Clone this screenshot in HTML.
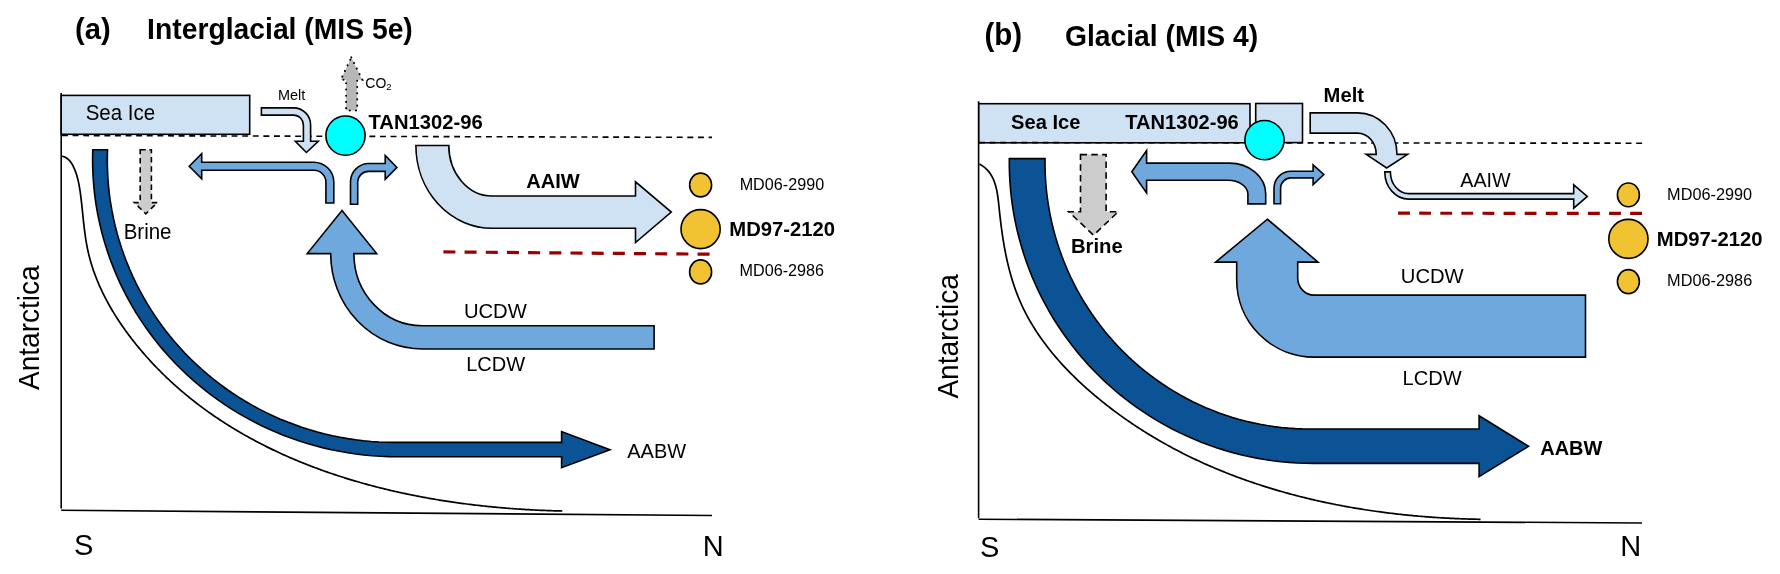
<!DOCTYPE html>
<html><head><meta charset="utf-8"><style>
html,body{margin:0;padding:0;background:#fff;}
body{width:1780px;height:574px;overflow:hidden;}
svg{display:block;will-change:transform;}
text{font-family:"Liberation Sans",sans-serif;fill:#000;}
</style></head><body>
<svg width="1780" height="574" viewBox="0 0 1780 574">
<rect width="1780" height="574" fill="#fff"/>
<path d="M61.2,93 L61.2,508.5" stroke="#000" stroke-width="1.6" fill="none"/>
<path d="M61.2,510.3 L712,515.5" stroke="#000" stroke-width="1.6" fill="none"/>
<path d="M61.29,156.01 L63.07,156.44 L64.70,157.05 L66.17,157.81 L67.50,158.71 L68.71,159.75 L69.80,160.89 L70.78,162.13 L71.68,163.46 L72.50,164.85 L73.25,166.30 L73.95,167.78 L74.61,169.29 L75.22,170.83 L75.79,172.39 L76.33,173.97 L76.83,175.58 L77.29,177.20 L77.72,178.85 L78.12,180.51 L78.49,182.18 L78.84,183.87 L79.16,185.57 L79.47,187.28 L79.75,188.99 L80.01,190.72 L80.26,192.44 L80.50,194.18 L80.72,195.91 L80.94,197.64 L81.15,199.38 L81.35,201.11 L81.55,202.84 L81.74,204.57 L81.93,206.30 L82.11,208.03 L82.29,209.75 L82.47,211.48 L82.65,213.20 L82.82,214.92 L83.00,216.64 L83.18,218.36 L83.36,220.08 L83.54,221.79 L83.73,223.50 L83.92,225.21 L84.12,226.92 L84.32,228.63 L84.53,230.33 L84.75,232.03 L84.98,233.72 L85.21,235.42 L85.46,237.11 L85.71,238.80 L85.98,240.48 L86.26,242.16 L86.55,243.84 L86.86,245.52 L87.18,247.19 L87.51,248.85 L87.87,250.52 L88.24,252.18 L88.62,253.83 L89.02,255.48 L89.44,257.13 L89.88,258.77 L90.33,260.41 L90.80,262.05 L91.28,263.68 L91.78,265.30 L92.30,266.93 L92.83,268.55 L93.37,270.16 L93.93,271.77 L94.51,273.37 L95.10,274.97 L95.70,276.57 L96.32,278.16 L96.95,279.75 L97.60,281.33 L98.26,282.91 L98.93,284.48 L99.62,286.05 L100.32,287.61 L101.03,289.17 L101.76,290.72 L102.49,292.27 L103.25,293.82 L104.01,295.36 L104.78,296.89 L105.57,298.42 L106.37,299.94 L107.18,301.46 L108.01,302.97 L108.84,304.48 L109.68,305.98 L110.54,307.48 L111.41,308.97 L112.29,310.46 L113.17,311.94 L114.07,313.42 L114.98,314.89 L115.90,316.35 L116.83,317.81 L117.76,319.26 L118.71,320.71 L119.67,322.15 L120.63,323.59 L121.61,325.02 L122.59,326.45 L123.58,327.86 L124.58,329.28 L125.59,330.68 L126.61,332.08 L127.63,333.48 L128.66,334.87 L129.70,336.25 L130.75,337.63 L131.80,339.00 L132.86,340.36 L133.93,341.72 L135.01,343.07 L136.09,344.42 L137.18,345.75 L138.27,347.09 L139.37,348.41 L140.47,349.73 L141.59,351.04 L142.70,352.35 L143.83,353.65 L144.95,354.94 L146.09,356.23 L147.23,357.51 L148.37,358.78 L149.52,360.05 L150.68,361.31 L151.84,362.57 L153.00,363.81 L154.18,365.06 L155.35,366.29 L156.54,367.52 L157.72,368.74 L158.92,369.96 L160.11,371.17 L161.32,372.37 L162.53,373.57 L163.74,374.76 L164.96,375.94 L166.18,377.12 L167.41,378.29 L168.65,379.46 L169.89,380.62 L171.13,381.77 L172.38,382.92 L173.63,384.06 L174.89,385.19 L176.16,386.32 L177.43,387.45 L178.70,388.56 L179.98,389.67 L181.26,390.78 L182.55,391.87 L183.84,392.97 L185.14,394.05 L186.44,395.13 L187.75,396.21 L189.06,397.27 L190.38,398.34 L191.70,399.39 L193.02,400.44 L194.35,401.49 L195.69,402.52 L197.02,403.55 L198.37,404.58 L199.71,405.60 L201.07,406.62 L202.42,407.62 L203.78,408.63 L205.15,409.62 L206.52,410.61 L207.89,411.60 L209.27,412.58 L210.65,413.55 L212.03,414.52 L213.42,415.48 L214.82,416.44 L216.22,417.39 L217.62,418.33 L219.02,419.27 L220.43,420.20 L221.85,421.13 L223.27,422.05 L224.69,422.97 L226.11,423.88 L227.54,424.78 L228.98,425.68 L230.41,426.57 L231.86,427.46 L233.30,428.35 L234.75,429.22 L236.20,430.09 L237.66,430.96 L239.12,431.82 L240.58,432.67 L242.05,433.52 L243.52,434.37 L244.99,435.20 L246.47,436.04 L247.95,436.86 L249.43,437.69 L250.92,438.50 L252.41,439.31 L253.91,440.12 L255.40,440.92 L256.90,441.71 L258.41,442.50 L259.92,443.29 L261.43,444.07 L262.94,444.84 L264.46,445.61 L265.98,446.37 L267.50,447.13 L269.03,447.88 L270.56,448.63 L272.09,449.37 L273.63,450.11 L275.16,450.84 L276.71,451.56 L278.25,452.28 L279.80,453.00 L281.35,453.71 L282.90,454.42 L284.46,455.12 L286.02,455.81 L287.58,456.50 L289.14,457.19 L290.71,457.87 L292.28,458.54 L293.85,459.21 L295.42,459.88 L297.00,460.54 L298.58,461.19 L300.17,461.84 L301.75,462.49 L303.34,463.13 L304.93,463.76 L306.52,464.39 L308.12,465.02 L309.71,465.64 L311.31,466.25 L312.91,466.87 L314.52,467.47 L316.13,468.07 L317.73,468.67 L319.35,469.26 L320.96,469.85 L322.57,470.43 L324.19,471.00 L325.81,471.58 L327.43,472.14 L329.06,472.71 L330.68,473.26 L332.31,473.82 L333.94,474.37 L335.57,474.91 L337.21,475.45 L338.84,475.98 L340.48,476.51 L342.12,477.04 L343.76,477.56 L345.40,478.07 L347.05,478.59 L348.69,479.09 L350.34,479.59 L351.99,480.09 L353.64,480.59 L355.30,481.07 L356.95,481.56 L358.61,482.04 L360.26,482.51 L361.92,482.98 L363.58,483.45 L365.25,483.91 L366.91,484.37 L368.58,484.82 L370.24,485.27 L371.91,485.71 L373.58,486.15 L375.25,486.59 L376.92,487.02 L378.59,487.45 L380.27,487.87 L381.94,488.29 L383.62,488.70 L385.30,489.11 L386.98,489.52 L388.66,489.92 L390.34,490.31 L392.02,490.71 L393.70,491.09 L395.38,491.48 L397.07,491.86 L398.75,492.23 L400.44,492.61 L402.13,492.97 L403.82,493.34 L405.51,493.70 L407.20,494.05 L408.89,494.40 L410.58,494.75 L412.27,495.09 L413.96,495.43 L415.66,495.77 L417.35,496.10 L419.04,496.42 L420.74,496.75 L422.43,497.06 L424.13,497.38 L425.83,497.69 L427.52,498.00 L429.22,498.30 L430.92,498.60 L432.62,498.89 L434.32,499.19 L436.02,499.47 L437.71,499.76 L439.41,500.04 L441.11,500.31 L442.81,500.59 L444.51,500.85 L446.21,501.12 L447.91,501.38 L449.61,501.64 L451.31,501.89 L453.02,502.14 L454.72,502.38 L456.42,502.63 L458.12,502.86 L459.82,503.10 L461.52,503.33 L463.22,503.56 L464.92,503.78 L466.62,504.00 L468.32,504.22 L470.02,504.43 L471.72,504.64 L473.41,504.85 L475.11,505.05 L476.81,505.25 L478.51,505.44 L480.21,505.63 L481.90,505.82 L483.60,506.01 L485.30,506.19 L486.99,506.37 L488.69,506.54 L490.38,506.71 L492.08,506.88 L493.77,507.04 L495.46,507.20 L497.15,507.36 L498.85,507.51 L500.54,507.67 L502.23,507.81 L503.92,507.96 L505.60,508.10 L507.29,508.23 L508.98,508.37 L510.66,508.50 L512.35,508.63 L514.03,508.75 L515.72,508.87 L517.40,508.99 L519.08,509.10 L520.76,509.21 L522.44,509.32 L524.11,509.43 L525.79,509.53 L527.47,509.63 L529.14,509.72 L530.81,509.82 L532.49,509.91 L534.16,509.99 L535.83,510.08 L537.49,510.16 L539.16,510.23 L540.83,510.31 L542.49,510.38 L544.15,510.45 L545.81,510.51 L547.47,510.57 L549.13,510.63 L550.79,510.69 L552.44,510.74 L554.09,510.79 L555.75,510.84 L557.40,510.89 L559.04,510.93 L560.69,510.97 L562.34,511.00" stroke="#000" stroke-width="1.7" fill="none"/>
<rect x="61.2" y="95.4" width="188.5" height="38.9" fill="#cfe2f3" stroke="#000" stroke-width="1.6"/>
<path d="M62,135.5 L712,137.4" stroke="#000" stroke-width="1.6" stroke-dasharray="5.9 4.7" fill="none"/>
<path d="M92.78,149.70 L92.61,157.77 L92.66,165.85 L92.94,173.91 L93.44,181.97 L94.16,190.02 L95.11,198.04 L96.29,206.03 L97.68,213.99 L99.30,221.90 L101.14,229.78 L103.20,237.60 L105.47,245.36 L107.97,253.06 L110.67,260.69 L113.59,268.25 L116.72,275.72 L120.05,283.11 L123.59,290.41 L127.34,297.62 L131.28,304.72 L135.42,311.71 L139.75,318.59 L144.27,325.36 L148.99,332.00 L153.88,338.51 L158.96,344.90 L164.21,351.14 L169.63,357.24 L175.22,363.20 L180.98,369.01 L186.90,374.66 L192.97,380.16 L199.19,385.49 L205.56,390.65 L212.07,395.64 L218.72,400.46 L225.50,405.10 L232.41,409.56 L239.44,413.83 L246.59,417.92 L253.84,421.81 L261.21,425.51 L268.67,429.02 L276.23,432.32 L283.88,435.43 L291.61,438.33 L299.42,441.02 L307.31,443.51 L315.26,445.78 L323.27,447.85 L331.33,449.70 L339.45,451.33 L347.60,452.75 L355.80,453.96 L364.02,454.94 L372.27,455.71 L380.54,456.26 L388.81,456.59 L397.10,456.70 L561.60,456.70 L561.60,467.70 L610.00,449.70 L561.60,431.60 L561.60,442.40 L394.70,442.40 L386.87,442.30 L379.04,441.98 L371.23,441.46 L363.43,440.72 L355.66,439.78 L347.91,438.64 L340.20,437.28 L332.53,435.72 L324.91,433.95 L317.34,431.98 L309.82,429.81 L302.37,427.44 L294.99,424.87 L287.68,422.11 L280.45,419.14 L273.31,415.99 L266.25,412.65 L259.30,409.12 L252.44,405.40 L245.68,401.50 L239.04,397.43 L232.52,393.17 L226.11,388.75 L219.83,384.15 L213.68,379.39 L207.66,374.46 L201.79,369.38 L196.05,364.14 L190.47,358.75 L185.03,353.21 L179.75,347.53 L174.64,341.71 L169.68,335.75 L164.89,329.67 L160.27,323.45 L155.83,317.12 L151.56,310.67 L147.48,304.11 L143.58,297.44 L139.86,290.67 L136.33,283.80 L133.00,276.84 L129.86,269.80 L126.92,262.67 L124.17,255.47 L121.63,248.19 L119.29,240.85 L117.15,233.45 L115.22,226.00 L113.50,218.50 L111.99,210.95 L110.68,203.37 L109.59,195.75 L108.71,188.11 L108.04,180.44 L107.59,172.77 L107.34,165.08 L107.31,157.39 L107.50,149.70 Z" fill="#0b5394" stroke="#000" stroke-width="1.6" stroke-linejoin="miter"/>
<polygon points="140.20,149.80 151.40,149.80 151.40,202.60 157.40,202.60 145.80,213.80 134.30,202.60 140.20,202.60" fill="#cccccc" stroke="#000" stroke-width="1.6" stroke-dasharray="5.5 3.7"/>
<path d="M261.4,107.9 L293.60,107.9 A17,17 0 0 1 310.6,124.90 L310.6,141.3 L318.3,141.3 L306.4,152.5 L295.3,141.3 L303.4,141.3 L303.4,124.90 A9.8,9.8 0 0 0 293.60,115.1 L261.4,115.1 Z" fill="#cfe2f3" stroke="#000" stroke-width="1.6"/>
<polygon points="351.30,57.40 362.30,79.70 357.20,79.70 357.20,110.60 346.10,110.60 346.10,79.70 340.80,79.70" fill="#b7b7b7" stroke="#000" stroke-width="2" stroke-dasharray="0.1 6.1" stroke-linecap="round"/>
<path d="M189.2,166.3 L201.7,153.7 L201.7,162.2 L313.80,162.2 A20,20 0 0 1 333.8,182.20 L333.8,203 L325.9,203 L325.9,182.20 A11.9,11.9 0 0 0 313.80,170.3 L201.7,170.3 L201.7,178.9 Z" fill="#6fa8dc" stroke="#000" stroke-width="1.6"/>
<path d="M350.5,204.3 L350.5,181.80 A18.3,18.3 0 0 1 368.80,163.5 L385.2,163.5 L385.2,155.4 L396.9,167.4 L385.2,179.3 L385.2,171.4 L368.80,171.4 A10.9,10.9 0 0 0 357.7,181.80 L357.7,204.3 Z" fill="#6fa8dc" stroke="#000" stroke-width="1.6"/>
<circle cx="345.5" cy="135.6" r="19.6" fill="#00ffff" stroke="#000" stroke-width="1.6"/>
<path d="M415.9,145.5 L448.8,145.5 A43.2,50.5 0 0 0 492,196 L635.5,196 L635.5,181.8 L671.3,212.1 L635.5,242.5 L635.5,228.2 L492,228.2 A76.1,82.7 0 0 1 415.9,145.5 Z" fill="#cfe2f3" stroke="#000" stroke-width="1.6"/>
<path d="M342,210.6 L376.7,253.6 L353.9,253.6 A68.5,72.2 0 0 0 422.4,325.8 L654.1,325.8 L654.1,349 L422.4,349 A91.7,95.4 0 0 1 330.7,253.6 L307.2,253.6 Z" fill="#6fa8dc" stroke="#000" stroke-width="1.6"/>
<path d="M443.4,251.9 L709.6,254.2" stroke="#990000" stroke-width="3.2" stroke-dasharray="12 9.18" fill="none"/>
<ellipse cx="700.6" cy="185" rx="11.0" ry="11.9" fill="#f1c232" stroke="#000" stroke-width="1.6"/>
<ellipse cx="700.6" cy="229.1" rx="19.6" ry="19.5" fill="#f1c232" stroke="#000" stroke-width="1.6"/>
<ellipse cx="700.6" cy="271.9" rx="11.0" ry="12.0" fill="#f1c232" stroke="#000" stroke-width="1.6"/>
<path d="M978.6,101.3 L978.6,518.3" stroke="#000" stroke-width="1.6" fill="none"/>
<path d="M978.6,519.2 L1642,523" stroke="#000" stroke-width="1.6" fill="none"/>
<path d="M979.43,164.02 L981.00,164.91 L982.47,165.85 L983.86,166.85 L985.15,167.90 L986.36,169.01 L987.49,170.16 L988.54,171.37 L989.52,172.61 L990.43,173.90 L991.27,175.24 L992.04,176.60 L992.76,178.01 L993.42,179.45 L994.02,180.92 L994.58,182.42 L995.08,183.94 L995.55,185.50 L995.98,187.07 L996.36,188.67 L996.72,190.28 L997.04,191.92 L997.34,193.57 L997.61,195.24 L997.86,196.92 L998.09,198.62 L998.30,200.32 L998.50,202.04 L998.69,203.76 L998.87,205.49 L999.05,207.22 L999.22,208.95 L999.40,210.69 L999.58,212.42 L999.77,214.16 L999.96,215.89 L1000.16,217.62 L1000.36,219.35 L1000.56,221.09 L1000.77,222.82 L1000.99,224.55 L1001.21,226.27 L1001.43,228.00 L1001.67,229.73 L1001.90,231.45 L1002.15,233.17 L1002.40,234.89 L1002.66,236.61 L1002.92,238.33 L1003.19,240.04 L1003.47,241.75 L1003.76,243.46 L1004.05,245.17 L1004.35,246.87 L1004.66,248.58 L1004.98,250.27 L1005.31,251.97 L1005.64,253.66 L1005.98,255.35 L1006.34,257.04 L1006.70,258.72 L1007.07,260.40 L1007.45,262.08 L1007.84,263.75 L1008.23,265.42 L1008.64,267.08 L1009.06,268.74 L1009.49,270.40 L1009.93,272.05 L1010.38,273.70 L1010.85,275.34 L1011.32,276.98 L1011.80,278.61 L1012.30,280.24 L1012.81,281.87 L1013.33,283.49 L1013.86,285.10 L1014.40,286.71 L1014.96,288.31 L1015.53,289.91 L1016.11,291.50 L1016.70,293.08 L1017.31,294.66 L1017.93,296.24 L1018.57,297.80 L1019.22,299.36 L1019.88,300.92 L1020.56,302.47 L1021.25,304.01 L1021.95,305.55 L1022.67,307.08 L1023.40,308.60 L1024.14,310.11 L1024.90,311.62 L1025.67,313.13 L1026.46,314.62 L1027.25,316.12 L1028.06,317.60 L1028.88,319.08 L1029.72,320.55 L1030.57,322.02 L1031.42,323.47 L1032.29,324.93 L1033.18,326.37 L1034.07,327.81 L1034.98,329.25 L1035.89,330.68 L1036.82,332.10 L1037.76,333.51 L1038.71,334.92 L1039.67,336.32 L1040.65,337.72 L1041.63,339.11 L1042.62,340.49 L1043.63,341.87 L1044.64,343.24 L1045.66,344.61 L1046.70,345.97 L1047.74,347.32 L1048.79,348.66 L1049.86,350.00 L1050.93,351.34 L1052.01,352.67 L1053.10,353.99 L1054.20,355.30 L1055.31,356.61 L1056.42,357.92 L1057.55,359.21 L1058.68,360.50 L1059.83,361.79 L1060.98,363.07 L1062.13,364.34 L1063.30,365.61 L1064.47,366.87 L1065.65,368.12 L1066.84,369.37 L1068.04,370.61 L1069.24,371.85 L1070.45,373.08 L1071.67,374.30 L1072.89,375.52 L1074.12,376.73 L1075.36,377.94 L1076.60,379.14 L1077.85,380.33 L1079.11,381.52 L1080.37,382.70 L1081.64,383.87 L1082.91,385.04 L1084.19,386.21 L1085.47,387.37 L1086.76,388.52 L1088.05,389.66 L1089.35,390.80 L1090.66,391.94 L1091.96,393.06 L1093.28,394.19 L1094.59,395.30 L1095.92,396.41 L1097.24,397.52 L1098.57,398.62 L1099.91,399.71 L1101.24,400.80 L1102.58,401.88 L1103.93,402.95 L1105.28,404.02 L1106.63,405.08 L1107.98,406.14 L1109.34,407.19 L1110.71,408.24 L1112.07,409.28 L1113.44,410.31 L1114.82,411.34 L1116.19,412.36 L1117.57,413.38 L1118.96,414.39 L1120.35,415.40 L1121.74,416.40 L1123.13,417.39 L1124.53,418.38 L1125.93,419.36 L1127.34,420.34 L1128.74,421.31 L1130.15,422.28 L1131.57,423.24 L1132.99,424.19 L1134.41,425.14 L1135.83,426.09 L1137.26,427.02 L1138.69,427.96 L1140.13,428.88 L1141.56,429.80 L1143.00,430.72 L1144.45,431.63 L1145.89,432.53 L1147.34,433.43 L1148.80,434.33 L1150.25,435.22 L1151.71,436.10 L1153.17,436.98 L1154.64,437.85 L1156.11,438.71 L1157.58,439.58 L1159.05,440.43 L1160.53,441.28 L1162.01,442.13 L1163.49,442.97 L1164.97,443.80 L1166.46,444.63 L1167.95,445.45 L1169.45,446.27 L1170.95,447.08 L1172.44,447.89 L1173.95,448.70 L1175.45,449.49 L1176.96,450.28 L1178.47,451.07 L1179.98,451.85 L1181.50,452.63 L1183.02,453.40 L1184.54,454.17 L1186.06,454.93 L1187.59,455.68 L1189.12,456.43 L1190.65,457.18 L1192.18,457.92 L1193.72,458.65 L1195.26,459.38 L1196.80,460.11 L1198.34,460.83 L1199.89,461.54 L1201.44,462.25 L1202.99,462.96 L1204.54,463.66 L1206.10,464.35 L1207.66,465.04 L1209.22,465.73 L1210.78,466.40 L1212.35,467.08 L1213.91,467.75 L1215.48,468.41 L1217.05,469.07 L1218.63,469.73 L1220.20,470.38 L1221.78,471.02 L1223.36,471.66 L1224.95,472.30 L1226.53,472.93 L1228.12,473.55 L1229.71,474.17 L1231.30,474.79 L1232.89,475.40 L1234.48,476.01 L1236.08,476.61 L1237.68,477.21 L1239.28,477.80 L1240.88,478.39 L1242.49,478.97 L1244.10,479.55 L1245.70,480.12 L1247.31,480.69 L1248.93,481.25 L1250.54,481.81 L1252.16,482.36 L1253.77,482.91 L1255.39,483.46 L1257.02,484.00 L1258.64,484.53 L1260.26,485.06 L1261.89,485.59 L1263.52,486.11 L1265.15,486.63 L1266.78,487.14 L1268.41,487.65 L1270.05,488.15 L1271.68,488.65 L1273.32,489.15 L1274.96,489.64 L1276.60,490.12 L1278.24,490.60 L1279.88,491.08 L1281.53,491.55 L1283.18,492.02 L1284.82,492.48 L1286.47,492.94 L1288.12,493.40 L1289.78,493.85 L1291.43,494.29 L1293.08,494.73 L1294.74,495.17 L1296.40,495.60 L1298.06,496.03 L1299.72,496.45 L1301.38,496.87 L1303.04,497.29 L1304.70,497.70 L1306.37,498.11 L1308.03,498.51 L1309.70,498.91 L1311.37,499.30 L1313.04,499.69 L1314.71,500.08 L1316.38,500.46 L1318.05,500.83 L1319.73,501.21 L1321.40,501.57 L1323.07,501.94 L1324.75,502.30 L1326.43,502.66 L1328.11,503.01 L1329.79,503.36 L1331.47,503.70 L1333.15,504.04 L1334.83,504.38 L1336.51,504.71 L1338.19,505.03 L1339.88,505.36 L1341.56,505.68 L1343.25,505.99 L1344.94,506.30 L1346.62,506.61 L1348.31,506.92 L1350.00,507.22 L1351.69,507.51 L1353.38,507.80 L1355.07,508.09 L1356.76,508.37 L1358.45,508.65 L1360.14,508.93 L1361.84,509.20 L1363.53,509.47 L1365.22,509.73 L1366.92,510.00 L1368.61,510.25 L1370.31,510.51 L1372.00,510.75 L1373.70,511.00 L1375.40,511.24 L1377.09,511.48 L1378.79,511.71 L1380.49,511.94 L1382.18,512.17 L1383.88,512.39 L1385.58,512.61 L1387.28,512.83 L1388.98,513.04 L1390.68,513.25 L1392.38,513.45 L1394.08,513.65 L1395.78,513.85 L1397.48,514.04 L1399.18,514.23 L1400.88,514.42 L1402.58,514.60 L1404.28,514.78 L1405.98,514.95 L1407.68,515.13 L1409.38,515.29 L1411.08,515.46 L1412.78,515.62 L1414.48,515.78 L1416.18,515.93 L1417.88,516.08 L1419.58,516.23 L1421.28,516.37 L1422.98,516.51 L1424.68,516.65 L1426.37,516.78 L1428.07,516.91 L1429.77,517.04 L1431.47,517.16 L1433.17,517.28 L1434.87,517.40 L1436.57,517.51 L1438.26,517.62 L1439.96,517.73 L1441.66,517.83 L1443.35,517.93 L1445.05,518.03 L1446.74,518.12 L1448.44,518.21 L1450.13,518.30 L1451.83,518.38 L1453.52,518.46 L1455.22,518.54 L1456.91,518.61 L1458.60,518.68 L1460.29,518.75 L1461.98,518.82 L1463.67,518.88 L1465.36,518.93 L1467.05,518.99 L1468.74,519.04 L1470.43,519.09 L1472.12,519.13 L1473.80,519.18 L1475.49,519.22 L1477.17,519.25 L1478.86,519.29 L1480.54,519.32" stroke="#000" stroke-width="1.7" fill="none"/>
<rect x="978.8" y="103.7" width="271.2" height="39.1" fill="#cfe2f3" stroke="#000" stroke-width="1.6"/>
<rect x="1255.7" y="103.5" width="46.8" height="39.1" fill="#cfe2f3" stroke="#000" stroke-width="1.6"/>
<path d="M979,142.6 L1643,143.2" stroke="#000" stroke-width="1.6" stroke-dasharray="5.9 4.7" fill="none"/>
<path d="M1009.32,158.60 L1009.33,166.68 L1009.56,174.75 L1010.00,182.82 L1010.66,190.87 L1011.54,198.90 L1012.64,206.90 L1013.96,214.88 L1015.49,222.81 L1017.24,230.70 L1019.19,238.54 L1021.37,246.33 L1023.75,254.06 L1026.34,261.72 L1029.13,269.31 L1032.14,276.82 L1035.34,284.25 L1038.74,291.59 L1042.35,298.84 L1046.15,305.99 L1050.14,313.04 L1054.32,319.98 L1058.68,326.80 L1063.23,333.51 L1067.96,340.09 L1072.87,346.55 L1077.95,352.87 L1083.20,359.06 L1088.62,365.10 L1094.20,371.00 L1099.93,376.75 L1105.82,382.34 L1111.86,387.77 L1118.05,393.05 L1124.37,398.15 L1130.83,403.09 L1137.43,407.85 L1144.15,412.44 L1150.99,416.85 L1157.95,421.07 L1165.02,425.11 L1172.20,428.96 L1179.48,432.61 L1186.85,436.07 L1194.32,439.34 L1201.87,442.40 L1209.51,445.27 L1217.22,447.92 L1224.99,450.38 L1232.84,452.63 L1240.74,454.66 L1248.69,456.49 L1256.69,458.10 L1264.73,459.51 L1272.80,460.69 L1280.91,461.67 L1289.03,462.42 L1297.18,462.97 L1305.34,463.29 L1313.50,463.40 L1479.10,463.40 L1479.10,476.60 L1528.60,446.30 L1479.10,415.70 L1479.10,429.00 L1309.60,429.00 L1302.49,428.90 L1295.38,428.62 L1288.29,428.13 L1281.21,427.46 L1274.15,426.60 L1267.11,425.54 L1260.11,424.30 L1253.14,422.87 L1246.21,421.24 L1239.33,419.43 L1232.50,417.44 L1225.73,415.26 L1219.01,412.90 L1212.37,410.36 L1205.79,407.64 L1199.28,404.74 L1192.86,401.67 L1186.52,398.43 L1180.27,395.01 L1174.11,391.43 L1168.05,387.68 L1162.10,383.77 L1156.25,379.70 L1150.51,375.47 L1144.88,371.09 L1139.38,366.55 L1133.99,361.87 L1128.74,357.05 L1123.61,352.09 L1118.62,346.99 L1113.77,341.75 L1109.06,336.39 L1104.49,330.90 L1100.07,325.29 L1095.81,319.56 L1091.69,313.72 L1087.74,307.77 L1083.94,301.71 L1080.31,295.56 L1076.84,289.31 L1073.55,282.96 L1070.42,276.53 L1067.46,270.02 L1064.68,263.43 L1062.08,256.76 L1059.66,250.03 L1057.41,243.24 L1055.35,236.39 L1053.47,229.48 L1051.78,222.53 L1050.27,215.53 L1048.96,208.49 L1047.82,201.42 L1046.88,194.33 L1046.13,187.21 L1045.57,180.07 L1045.20,172.92 L1045.02,165.76 L1045.03,158.60 Z" fill="#0b5394" stroke="#000" stroke-width="1.6"/>
<polygon points="1080.50,154.60 1106.10,154.60 1106.10,211.70 1118.30,211.70 1093.50,235.20 1068.70,211.70 1080.50,211.70" fill="#cccccc" stroke="#000" stroke-width="1.6" stroke-dasharray="6.5 4.3"/>
<path d="M1310.2,112.9 L1357.4,112.9 A39.6,41.5 0 0 1 1397,154.4 L1407.6,154.4 L1386.7,168.0 L1366.2,154.4 L1376.2,154.4 A18.8,21.3 0 0 0 1357.4,133.1 L1310.2,133.1 Z" fill="#cfe2f3" stroke="#000" stroke-width="1.6"/>
<path d="M1131.8,171.7 L1146.6,150.6 L1146.6,163.1 L1229.3,163.1 A36.4,30.6 0 0 1 1265.7,193.7 L1265.7,203.9 L1247.9,203.9 L1247.9,194 A19.9,13.7 0 0 0 1228,180.3 L1146.6,180.3 L1146.6,192.9 Z" fill="#6fa8dc" stroke="#000" stroke-width="1.6"/>
<path d="M1274,203.8 L1274,188.00 A17,17 0 0 1 1291.00,171.3 L1313.1,171.3 L1313.1,164.8 L1323.8,174.5 L1313.1,184.6 L1313.1,177.9 L1291.00,177.9 A10.4,10.4 0 0 0 1280.6,188.00 L1280.6,203.8 Z" fill="#6fa8dc" stroke="#000" stroke-width="1.6"/>
<circle cx="1264.5" cy="140.1" r="19.6" fill="#00ffff" stroke="#000" stroke-width="1.6"/>
<path d="M1384.8,171.9 L1390.4,171.9 A18.3,21.7 0 0 0 1408.7,193.6 L1573.7,193.6 L1573.7,184.8 L1587.3,196.4 L1573.7,208.2 L1573.7,199.1 L1408.7,199.1 A23.9,27.2 0 0 1 1384.8,171.9 Z" fill="#cfe2f3" stroke="#000" stroke-width="1.6"/>
<path d="M1267.4,219.2 L1318,262.1 L1297.7,262.1 L1297.7,278 A16.4,17.1 0 0 0 1314.1,295.1 L1585.5,295.1 L1585.5,357.1 L1314.1,357.1 A77.4,77.1 0 0 1 1236.7,280 L1236.7,262.1 L1215.6,262.1 Z" fill="#6fa8dc" stroke="#000" stroke-width="1.6"/>
<path d="M1398.1,213.2 L1643.4,213.4" stroke="#990000" stroke-width="3.2" stroke-dasharray="11.8 9.3" fill="none"/>
<ellipse cx="1628.4" cy="194.9" rx="11.0" ry="11.9" fill="#f1c232" stroke="#000" stroke-width="1.6"/>
<ellipse cx="1628.4" cy="238.9" rx="19.6" ry="19.5" fill="#f1c232" stroke="#000" stroke-width="1.6"/>
<ellipse cx="1628.4" cy="281.6" rx="11.0" ry="12.0" fill="#f1c232" stroke="#000" stroke-width="1.6"/>
<text transform="translate(75.10,39.00) scale(1,1.040)" font-size="29.20" font-weight="bold">(a)</text>
<text transform="translate(147.12,38.50) scale(1,1.040)" font-size="28.29" font-weight="bold">Interglacial (MIS 5e)</text>
<text transform="translate(85.70,120.40) scale(1,1.040)" font-size="20.48">Sea Ice</text>
<text transform="translate(277.88,99.80) scale(1,1.040)" font-size="14.44">Melt</text>
<text transform="translate(365.3,87.6) scale(1,1.04)" font-size="14">CO<tspan font-size="9.6" dy="1.9">2</tspan></text>
<text transform="translate(368.45,128.80) scale(1,1.040)" font-size="20.24" font-weight="bold">TAN1302-96</text>
<text transform="translate(123.67,239.40) scale(1,1.040)" font-size="20.48">Brine</text>
<text transform="translate(526.30,187.70) scale(1,1.040)" font-size="20.08" font-weight="bold">AAIW</text>
<text transform="translate(463.90,317.80) scale(1,1.040)" font-size="20.24">UCDW</text>
<text transform="translate(466.18,370.50) scale(1,1.040)" font-size="20.02">LCDW</text>
<text transform="translate(739.65,189.90) scale(1,1.040)" font-size="16.18">MD06-2990</text>
<text transform="translate(729.33,235.90) scale(1,1.040)" font-size="20.26" font-weight="bold">MD97-2120</text>
<text transform="translate(739.52,276.00) scale(1,1.040)" font-size="16.20">MD06-2986</text>
<text transform="translate(627.30,458.20) scale(1,1.040)" font-size="19.97">AABW</text>
<text transform="translate(74.12,555.30) scale(1,1.040)" font-size="29.00">S</text>
<text transform="translate(702.83,555.80) scale(1,1.040)" font-size="29.00">N</text>
<text transform="translate(39.2,389.9) rotate(-90) scale(1,1.04)" x="0" y="0" font-size="28">Antarctica</text>
<text transform="translate(984.50,45.20) scale(1,1.040)" font-size="29.50" font-weight="bold">(b)</text>
<text transform="translate(1064.97,45.90) scale(1,1.040)" font-size="28.27" font-weight="bold">Glacial (MIS 4)</text>
<text transform="translate(1011.08,128.60) scale(1,1.040)" font-size="20.12" font-weight="bold">Sea Ice</text>
<text transform="translate(1125.35,128.60) scale(1,1.040)" font-size="20.08" font-weight="bold">TAN1302-96</text>
<text transform="translate(1323.62,101.70) scale(1,1.040)" font-size="20.18" font-weight="bold">Melt</text>
<text transform="translate(1070.92,253.40) scale(1,1.040)" font-size="20.27" font-weight="bold">Brine</text>
<text transform="translate(1460.30,187.10) scale(1,1.040)" font-size="19.70">AAIW</text>
<text transform="translate(1400.80,282.80) scale(1,1.040)" font-size="20.24">UCDW</text>
<text transform="translate(1402.58,385.10) scale(1,1.040)" font-size="20.12">LCDW</text>
<text transform="translate(1667.12,200.20) scale(1,1.040)" font-size="16.28">MD06-2990</text>
<text transform="translate(1656.83,245.60) scale(1,1.040)" font-size="20.26" font-weight="bold">MD97-2120</text>
<text transform="translate(1667.12,286.00) scale(1,1.040)" font-size="16.30">MD06-2986</text>
<text transform="translate(1540.30,455.00) scale(1,1.040)" font-size="19.94" font-weight="bold">AABW</text>
<text transform="translate(980.12,557.00) scale(1,1.040)" font-size="29.00">S</text>
<text transform="translate(1620.22,555.80) scale(1,1.040)" font-size="29.00">N</text>
<text transform="translate(957.8,398.6) rotate(-90) scale(1,1.04)" x="0" y="0" font-size="28">Antarctica</text>
</svg>
</body></html>
